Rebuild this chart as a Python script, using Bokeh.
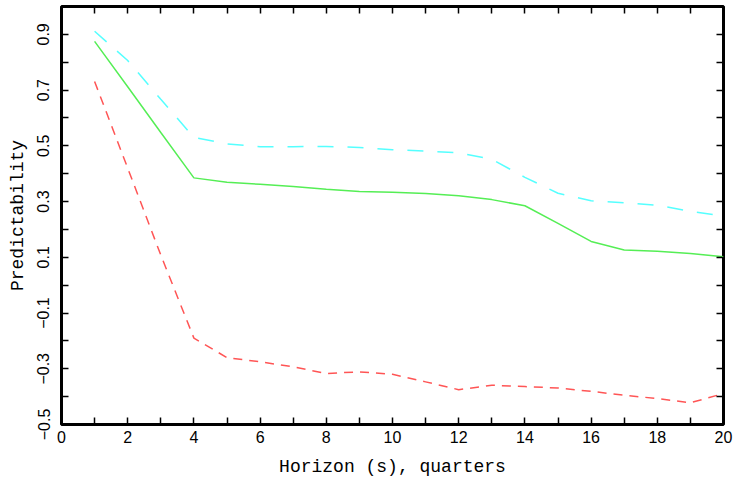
from bokeh.plotting import figure
from bokeh.models import LinearAxis, FixedTicker, Range1d, CustomJSTickFormatter
from bokeh.embed import file_html
from bokeh.resources import INLINE

horizon = list(range(1, 21))
series_cyan = [0.911, 0.806, 0.667, 0.530, 0.507, 0.497, 0.497, 0.498, 0.494, 0.486,
               0.481, 0.475, 0.452, 0.387, 0.330, 0.303, 0.296, 0.287, 0.265, 0.248]
series_green = [0.875, 0.712, 0.548, 0.385, 0.369, 0.362, 0.354, 0.344, 0.336, 0.333,
                0.329, 0.321, 0.307, 0.285, 0.222, 0.157, 0.126, 0.122, 0.114, 0.102]
series_red = [0.731, 0.420, 0.108, -0.190, -0.260, -0.275, -0.293, -0.317, -0.311, -0.320,
              -0.347, -0.375, -0.359, -0.364, -0.369, -0.381, -0.395, -0.407, -0.422, -0.389]

x_labeled_ticks = [0, 2, 4, 6, 8, 10, 12, 14, 16, 18, 20]
x_unlabeled_ticks = [1, 3, 5, 7, 9, 11, 13, 15, 17, 19]
y_labeled_ticks = [-0.5, -0.3, -0.1, 0.1, 0.3, 0.5, 0.7, 0.9]
y_unlabeled_ticks = [-0.4, -0.2, 0.0, 0.2, 0.4, 0.6, 0.8]

p = figure(width=733, height=487, output_backend="svg", toolbar_location=None,
           x_range=Range1d(0, 20), y_range=Range1d(-0.5, 1.0))
p.min_border_left = 61
p.min_border_right = 10
p.min_border_top = 6
p.min_border_bottom = 63
p.grid.visible = False
p.background_fill_color = "white"
p.border_fill_color = "white"
p.outline_line_color = "black"
p.outline_line_width = 3

p.line(horizon, series_cyan, line_color="#55ffff", line_width=1.5, line_dash="16 14")
p.line(horizon, series_green, line_color="#55ee55", line_width=1.5)
p.line(horizon, series_red, line_color="#ff5555", line_width=1.5, line_dash="9 7")

tick_label_font = "Liberation Sans"
title_font = "Liberation Mono"

xa = p.xaxis[0]
xa.ticker = FixedTicker(ticks=x_labeled_ticks, minor_ticks=x_unlabeled_ticks)
xa.axis_label = "Horizon (s), quarters"
ya = p.yaxis[0]
ya.ticker = FixedTicker(ticks=y_labeled_ticks, minor_ticks=y_unlabeled_ticks)
ya.formatter = CustomJSTickFormatter(
    code="return tick < 0 ? '\u2212' + Math.abs(tick).toFixed(1) : tick.toFixed(1);")
ya.axis_label = "Predictability"
ya.major_label_orientation = "vertical"

for ax in (xa, ya):
    ax.axis_line_color = None
    ax.major_tick_in = 7
    ax.major_tick_out = 0
    ax.minor_tick_in = 7
    ax.minor_tick_out = 0
    ax.major_tick_line_width = 1.5
    ax.minor_tick_line_width = 1.5
    ax.major_tick_line_color = "black"
    ax.minor_tick_line_color = "black"
    ax.major_label_text_font = tick_label_font
    ax.major_label_text_font_size = "16px"
    ax.major_label_text_color = "black"
    ax.axis_label_text_font = title_font
    ax.axis_label_text_font_size = "18px"
    ax.axis_label_text_font_style = "normal"
    ax.axis_label_text_color = "black"

xa.major_label_standoff = 6
xa.axis_label_standoff = 11
ya.major_label_standoff = 12
ya.axis_label_standoff = 7

top = LinearAxis(ticker=FixedTicker(ticks=[], minor_ticks=list(range(0, 21))),
                 axis_line_color=None, major_tick_line_color=None,
                 minor_tick_in=7, minor_tick_out=0, minor_tick_line_width=1.5,
                 minor_tick_line_color="black", major_label_standoff=0)
right = LinearAxis(ticker=FixedTicker(ticks=[], minor_ticks=y_labeled_ticks + y_unlabeled_ticks),
                   axis_line_color=None, major_tick_line_color=None,
                   minor_tick_in=7, minor_tick_out=0, minor_tick_line_width=1.5,
                   minor_tick_line_color="black", major_label_standoff=0)
p.add_layout(top, "above")
p.add_layout(right, "right")

open("out.html", "w").write(file_html(p, INLINE))
